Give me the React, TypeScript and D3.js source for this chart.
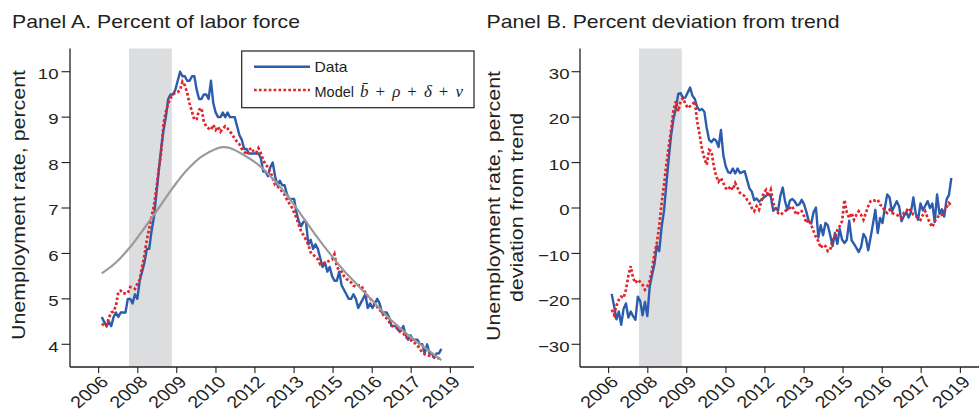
import React from "react";
import * as d3 from "d3";

// ---- Data (monthly, index 0 = Jan 2007) ----
const unemploymentRate = [
  4.6,4.5,4.4,4.5,4.4,4.6,4.7,4.6,4.7,4.7,4.7,5.0,
  5.0,4.9,5.1,5.0,5.4,5.6,5.8,6.1,6.1,6.5,6.8,7.3,
  7.8,8.3,8.7,9.0,9.4,9.5,9.5,9.6,9.8,10.0,9.9,9.9,
  9.8,9.8,9.9,9.9,9.6,9.4,9.4,9.5,9.5,9.4,9.8,9.3,
  9.1,9.0,9.0,9.1,9.0,9.1,9.0,9.0,9.0,8.8,8.6,8.5,
  8.3,8.3,8.2,8.2,8.2,8.2,8.2,8.1,7.8,7.8,7.7,7.9,
  8.0,7.7,7.5,7.6,7.5,7.5,7.3,7.2,7.2,7.2,6.9,6.7,
  6.6,6.7,6.7,6.2,6.3,6.1,6.2,6.1,5.9,5.7,5.8,5.6,
  5.7,5.5,5.4,5.4,5.6,5.3,5.2,5.1,5.0,5.0,5.1,5.0,
  4.8,4.9,5.0,5.1,4.8,4.9,4.8,4.9,5.0,4.9,4.7,4.7,
  4.7,4.6,4.4,4.4,4.4,4.3,4.3,4.4,4.2,4.1,4.2,4.1,
  4.1,4.1,4.0,4.0,3.8,4.0,3.8,3.8,3.7,3.8,3.8,3.9,
];

const modelRate = [
  4.45,4.42,4.40,4.58,4.70,4.72,4.85,5.15,5.18,5.12,5.12,5.13,
  5.26,5.25,5.22,5.33,5.42,5.70,5.97,6.30,6.55,6.81,7.05,7.42,
  7.85,8.20,8.85,9.12,9.30,9.42,9.50,9.54,9.55,9.60,9.78,9.70,
  9.53,9.30,9.12,8.94,8.96,9.16,9.20,8.90,8.80,8.75,8.72,8.83,
  8.72,8.79,8.68,8.75,8.80,8.75,8.68,8.62,8.52,8.46,8.40,8.30,
  8.24,8.17,8.28,8.32,8.24,8.21,8.32,8.21,8.06,7.95,7.90,7.80,
  7.65,7.51,7.47,7.44,7.35,7.29,7.18,7.10,7.02,6.90,6.78,6.62,
  6.48,6.40,6.30,6.19,6.02,5.98,5.92,5.87,5.76,5.78,5.79,5.82,
  5.84,5.86,5.98,5.70,5.64,5.60,5.50,5.44,5.41,5.36,5.29,5.27,
  5.30,5.30,5.23,5.14,5.06,5.01,4.95,4.90,4.82,4.76,4.70,4.61,
  4.57,4.49,4.42,4.38,4.37,4.30,4.26,4.24,4.16,4.12,4.10,4.04,
  4.02,3.97,3.89,3.82,3.78,3.76,3.75,3.74,3.72,3.70,3.69,3.67,
];

const trendMonths = [0,6,12,18,24,30,36,42,48,51,54,60,66,72,78,84,90,96,102,108,114,120,126,132,138,143];
const trendRate = [5.56,5.80,6.14,6.56,7.00,7.45,7.84,8.13,8.30,8.34,8.32,8.16,7.95,7.65,7.28,6.85,6.41,6.00,5.62,5.29,4.96,4.63,4.34,4.08,3.85,3.65];

const deviationData = [
  -18.9,-21.6,-24.5,-22.8,-25.7,-22.2,-21.0,-24.1,-22.8,-23.8,-24.6,-19.5,
  -20.5,-23.6,-20.7,-23.8,-17.3,-14.7,-12.3,-8.3,-9.5,-4.2,-0.7,5.2,
  10.8,16.0,19.6,21.9,25.1,25.3,24.2,24.3,25.4,26.5,24.7,24.0,
  22.2,21.5,21.8,21.2,17.6,15.0,14.5,15.2,14.8,13.4,17.2,11.6,
  9.2,7.9,7.7,8.7,7.6,8.7,7.7,7.9,8.1,6.2,4.3,3.6,
  1.7,2.1,1.4,1.8,2.3,2.7,3.1,2.5,-0.6,0.0,-0.6,2.6,
  4.5,1.4,-0.4,1.6,2.0,1.5,0.6,0.8,1.8,0.8,-0.9,-3.0,
  -3.4,-0.9,0.1,-6.5,-3.8,-6.0,-3.3,-3.8,-6.0,-8.4,-5.5,-7.9,
  -4.6,-7.0,-7.7,-7.0,-2.8,-7.1,-7.9,-8.8,-9.7,-8.6,-5.7,-6.6,
  -9.3,-6.5,-3.5,-0.4,-5.5,-2.2,-3.3,0.0,3.0,2.3,-0.8,0.4,
  1.5,0.4,-2.9,-1.8,-0.9,-2.1,-0.9,2.3,-1.2,-2.6,1.0,-0.5,
  0.5,1.5,0.0,1.0,-3.1,3.0,-1.3,-0.3,-1.9,1.9,2.9,6.6,
];

const deviationModel = [
  -22.4,-23.5,-21.5,-20.2,-19.5,-19.8,-18.0,-15.0,-12.8,-15.4,-16.5,-15.8,
  -16.3,-16.9,-18.0,-17.3,-16.0,-13.5,-10.0,-7.7,-4.0,1.0,5.0,9.5,
  13.5,17.2,21.5,23.5,21.3,23.5,24.2,23.0,22.0,22.4,22.8,23.5,
  19.0,16.2,13.0,11.0,9.5,12.8,12.5,9.2,7.0,5.8,6.6,5.5,
  4.4,4.0,4.8,4.0,5.5,4.4,3.3,3.0,2.6,1.8,1.1,0.0,
  -0.7,0.4,-0.4,1.5,3.3,4.0,2.6,4.0,1.1,0.0,-1.1,-1.5,
  -1.1,-0.7,-0.3,0.0,0.4,-0.7,-1.5,-0.7,-0.7,-1.8,-3.3,-2.6,
  -3.7,-5.1,-6.4,-7.3,-8.8,-8.1,-8.4,-9.5,-9.2,-7.0,-6.6,-4.8,
  -4.0,-2.9,1.8,-1.0,-2.2,-1.1,-2.6,-1.5,-0.7,-1.5,-2.6,-1.1,
  0.4,1.5,1.8,1.6,1.8,0.7,0.4,-0.7,-1.1,-0.4,-1.1,-1.3,
  -1.5,-1.8,-2.2,-1.1,-0.7,0.0,-0.7,-1.5,-1.8,-2.2,-2.6,-1.5,
  -0.7,-2.2,-3.3,-4.2,-2.9,-2.2,-1.5,-1.5,-0.7,0.2,1.1,0.5,
];

const xTickLabels = ["2006","2008","2009","2010","2012","2013","2015","2016","2017","2019"];
const xTickMonths = [-1.3,15.2,31.6,48.1,64.5,81.0,97.4,113.9,130.3,146.8];
const recessionMonths = [11.5, 29.5];
const yTicksA = [4,5,6,7,8,9,10];
const yTicksB = [-30,-20,-10,0,10,20,30];

// ---- Styles ----
const FONT = "'Liberation Sans', Arial, Helvetica, sans-serif";
const SERIF = "'Liberation Serif', 'DejaVu Serif', serif";
const TXT = "#231f20";
const BLUE = "#2b5cad";
const RED = "#e3242b";
const GRAY = "#9a9a9a";
const SHADE = "#dcdddf";
const SX = 1.2;

const TOP = 48.5;
const BOTTOM = 367;
const xDomain: [number, number] = [-13.35, 156.75];

type PanelProps = {
  left: number;
  right: number;
  yDomain: [number, number];
  yTicks: number[];
  data: number[];
  model: number[];
  showTrend: boolean;
  labelEnd: number;
  fmt: (v: number) => string;
};

function Panel({ left, right, yDomain, yTicks, data, model, showTrend, labelEnd, fmt }: PanelProps) {
  const x = d3.scaleLinear().domain(xDomain).range([left, right]);
  const y = d3.scaleLinear().domain(yDomain).range([BOTTOM, TOP + 0.5]);
  const line = d3.line<number>().x((_, i) => x(i)).y((d) => y(d));
  const trendLine = d3
    .line<number>()
    .x((_, i) => x(trendMonths[i]))
    .y((d) => y(d))
    .curve(d3.curveCatmullRom);
  return (
    <g>
      <rect
        x={x(recessionMonths[0])}
        y={TOP}
        width={x(recessionMonths[1]) - x(recessionMonths[0])}
        height={BOTTOM - TOP}
        fill={SHADE}
      />
      <path d={line(data) || ""} fill="none" stroke={BLUE} strokeWidth={2.4} strokeLinejoin="round" />
      <path d={line(model) || ""} fill="none" stroke={RED} strokeWidth={2.7} strokeDasharray="2.7 2.2" />
      {showTrend && (
        <path d={trendLine(trendRate) || ""} fill="none" stroke={GRAY} strokeWidth={2.2} />
      )}
      <line x1={left} x2={left} y1={TOP} y2={BOTTOM} stroke={TXT} strokeWidth={1.3} />
      <line x1={left} x2={right} y1={BOTTOM} y2={BOTTOM} stroke={TXT} strokeWidth={1.3} />
      {yTicks.map((t) => (
        <g key={"y" + t}>
          <line x1={left - 8.5} x2={left} y1={y(t)} y2={y(t)} stroke={TXT} strokeWidth={1.1} />
          <text
            transform={`translate(${labelEnd},${y(t) + 7.3}) scale(${SX},1)`}
            textAnchor="end"
            fontFamily={FONT}
            fontSize={15.5}
            fill={TXT}
          >
            {fmt(t)}
          </text>
        </g>
      ))}
      {xTickMonths.map((m, i) => (
        <g key={"x" + i}>
          <line x1={x(m)} x2={x(m)} y1={BOTTOM} y2={BOTTOM + 6} stroke={TXT} strokeWidth={1.1} />
          <text
            transform={`translate(${x(m) + 11},${383}) scale(${SX},1) rotate(-45)`}
            textAnchor="end"
            fontFamily={FONT}
            fontSize={16.5}
            fill={TXT}
          >
            {xTickLabels[i]}
          </text>
        </g>
      ))}
    </g>
  );
}

export default function App() {
  const minus = (v: number) => (v < 0 ? "\u2212" + Math.abs(v) : String(v));
  return (
    <svg
      width={979}
      height={413}
      viewBox="0 0 979 413"
      style={{ position: "absolute", left: 0, top: 0, background: "#fff" }}
    >
      <rect x={0} y={0} width={979} height={413} fill="#fff" />
      {/* Titles */}
      <text transform={`translate(12,27.7) scale(${SX},1)`} fontFamily={FONT} fontSize={17.7} fill={TXT}>
        Panel A. Percent of labor force
      </text>
      <text transform={`translate(486.5,27.7) scale(${SX},1)`} fontFamily={FONT} fontSize={17.7} fill={TXT}>
        Panel B. Percent deviation from trend
      </text>

      {/* Y labels */}
      <text
        transform={`translate(24.5,205) rotate(-90) scale(1.19,1)`}
        textAnchor="middle"
        fontFamily={FONT}
        fontSize={18}
        fill={TXT}
      >
        Unemployment rate, percent
      </text>
      <text
        transform={`translate(500,206) rotate(-90) scale(1.19,1)`}
        textAnchor="middle"
        fontFamily={FONT}
        fontSize={18}
        fill={TXT}
      >
        Unemployment rate, percent
      </text>
      <text
        transform={`translate(523,207.5) rotate(-90) scale(1.19,1)`}
        textAnchor="middle"
        fontFamily={FONT}
        fontSize={18}
        fill={TXT}
      >
        deviation from trend
      </text>

      <Panel
        left={70}
        right={474}
        yDomain={[3.5, 10.5]}
        yTicks={yTicksA}
        data={unemploymentRate}
        model={modelRate}
        showTrend={true}
        labelEnd={58.5}
        fmt={(v) => String(v)}
      />
      <Panel
        left={580}
        right={984}
        yDomain={[-35, 35]}
        yTicks={yTicksB}
        data={deviationData}
        model={deviationModel}
        showTrend={false}
        labelEnd={569.5}
        fmt={minus}
      />

      {/* Legend */}
      <g>
        <rect x={241.7} y={51} width={232.3} height={56.7} fill="#fff" stroke={TXT} strokeWidth={1.2} />
        <line x1={254} x2={310} y1={66.7} y2={66.7} stroke={BLUE} strokeWidth={2.6} />
        <text transform={`translate(314.5,71.7) scale(1.08,1)`} fontFamily={FONT} fontSize={14.5} fill={TXT}>
          Data
        </text>
        <line x1={254} x2={310} y1={90} y2={90} stroke={RED} strokeWidth={2.7} strokeDasharray="2.7 2.2" />
        <text transform={`translate(314.5,96.5) scale(1.0,1)`} fontFamily={FONT} fontSize={14.5} fill={TXT}>
          Model
        </text>
        <text x={360} y={96.5} fontFamily={SERIF} fontSize={17} fill={TXT} textLength={103} lengthAdjust="spacing">
          <tspan fontStyle="italic">{"b\u0304"}</tspan>
          <tspan>{" + "}</tspan>
          <tspan fontStyle="italic">{"\u03c1"}</tspan>
          <tspan>{" + "}</tspan>
          <tspan fontStyle="italic">{"\u03b4"}</tspan>
          <tspan>{" + "}</tspan>
          <tspan fontStyle="italic">{"\u03bd"}</tspan>
        </text>
      </g>
    </svg>
  );
}
